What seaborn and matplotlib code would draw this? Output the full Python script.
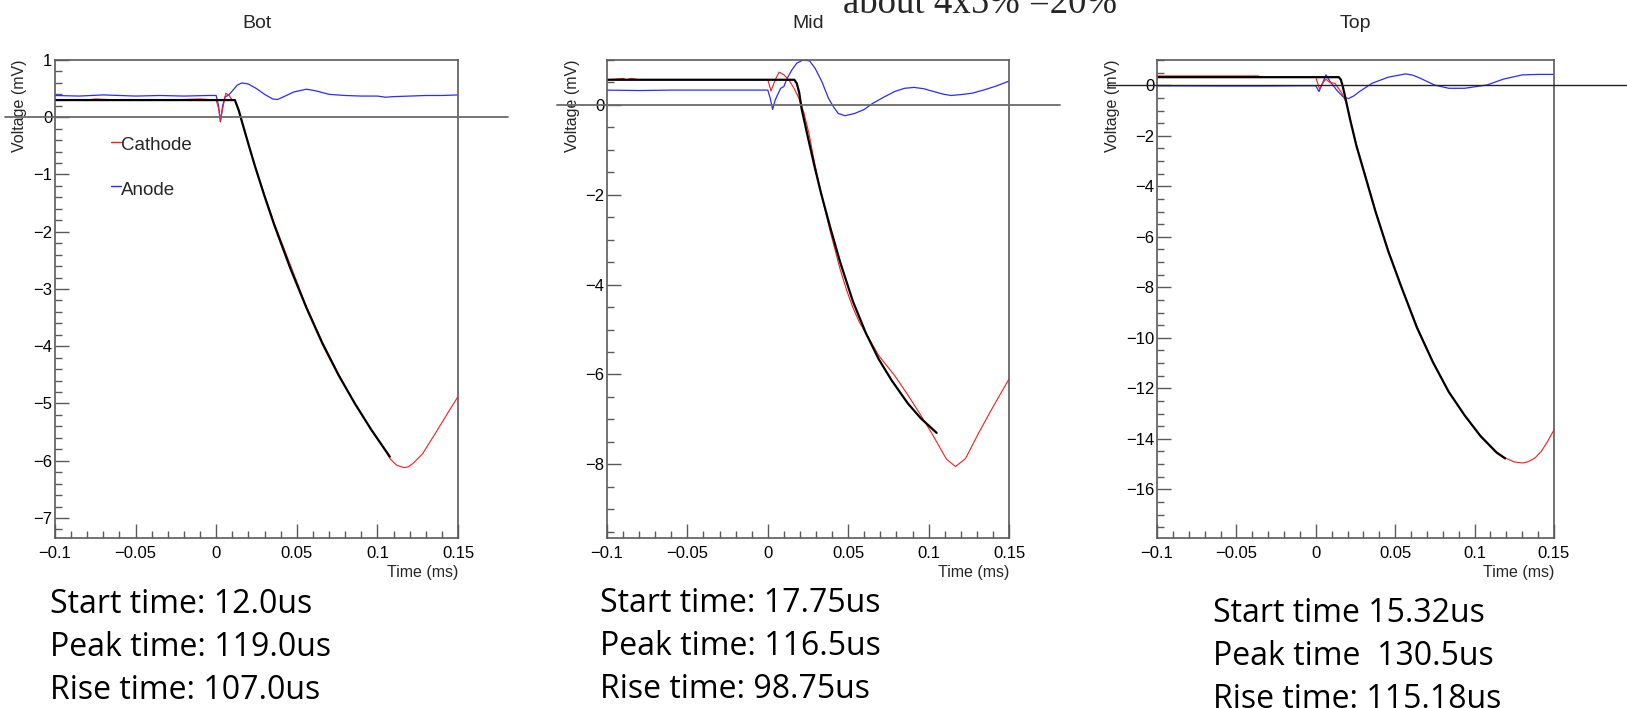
import matplotlib
matplotlib.use("Agg")
import matplotlib.pyplot as plt
from matplotlib.ticker import MultipleLocator, FuncFormatter
import seaborn as sns
import pandas as pd

sns.set_style("white")
plt.rcParams["font.family"] = ["Liberation Sans", "DejaVu Sans"]

# ---------------- Bot ----------------
bot_anode_t = [-0.100, -0.085, -0.070, -0.050, -0.035, -0.020, -0.005, 0.000, 0.0015, 0.0026,
               0.0040, 0.0055, 0.0075, 0.0100, 0.0130, 0.0160, 0.0200, 0.0250, 0.0300, 0.0350,
               0.0380, 0.0420, 0.0480, 0.0560, 0.0620, 0.0700, 0.0800, 0.0900, 0.1000, 0.1050,
               0.1100, 0.1200, 0.1300, 0.1400, 0.1500]
bot_anode_v = [0.38, 0.37, 0.39, 0.37, 0.38, 0.37, 0.38, 0.38, 0.20, -0.08,
               0.20, 0.36, 0.38, 0.46, 0.56, 0.60, 0.58, 0.50, 0.40, 0.32,
               0.31, 0.36, 0.44, 0.49, 0.46, 0.40, 0.38, 0.37, 0.37, 0.35,
               0.36, 0.37, 0.38, 0.38, 0.39]
bot_cathode_t = [-0.100, -0.080, -0.075, -0.060, -0.045, -0.040, -0.030, -0.010, 0.000, 0.0015,
                 0.0026, 0.0040, 0.0060, 0.0080, 0.0100, 0.0116, 0.0140, 0.0160, 0.0200, 0.0240,
                 0.0300, 0.0360, 0.0460, 0.0560, 0.0660, 0.0760, 0.0860, 0.0960, 0.1040, 0.1080,
                 0.1120, 0.1165, 0.1190, 0.1220, 0.1280, 0.1360, 0.1440, 0.1500]
bot_cathode_v = [0.30, 0.30, 0.32, 0.30, 0.30, 0.31, 0.30, 0.32, 0.30, 0.15,
                 -0.06, 0.15, 0.42, 0.38, 0.30, 0.30, 0.12, -0.08, -0.47, -0.85,
                 -1.36, -1.85, -2.58, -3.31, -3.93, -4.49, -5.00, -5.45, -5.78, -5.97,
                 -6.08, -6.12, -6.11, -6.05, -5.88, -5.52, -5.15, -4.88]
bot_fit_t = [-0.100, 0.0116, 0.0140, 0.0160, 0.0200, 0.0240, 0.0300, 0.0360, 0.0460, 0.0560,
             0.0660, 0.0760, 0.0860, 0.0960, 0.1077]
bot_fit_v = [0.30, 0.30, 0.12, -0.08, -0.47, -0.85, -1.38, -1.88, -2.64, -3.33,
             -3.96, -4.51, -5.00, -5.45, -5.93]

# ---------------- Mid ----------------
mid_anode_t = [-0.100, -0.080, -0.060, -0.040, -0.020, 0.000, 0.0015, 0.0030, 0.0045, 0.0060,
               0.0080, 0.0100, 0.0120, 0.0150, 0.0180, 0.0220, 0.0260, 0.0295, 0.0336, 0.0377,
               0.0408, 0.0438, 0.0480, 0.0540, 0.0600, 0.0650, 0.0720, 0.0790, 0.0850, 0.0910,
               0.0970, 0.1030, 0.1090, 0.1140, 0.1200, 0.1270, 0.1350, 0.1420, 0.1500]
mid_anode_v = [0.33, 0.32, 0.33, 0.33, 0.33, 0.33, 0.15, -0.10, 0.10, 0.22,
               0.37, 0.41, 0.59, 0.78, 0.93, 1.00, 0.98, 0.81, 0.52, 0.15,
               -0.04, -0.19, -0.24, -0.19, -0.10, 0.03, 0.17, 0.30, 0.37, 0.39,
               0.36, 0.30, 0.24, 0.21, 0.23, 0.26, 0.34, 0.42, 0.53]
mid_cathode_t = [-0.100, -0.090, -0.088, -0.085, -0.080, -0.040, 0.000, 0.0020, 0.0045, 0.0070,
                 0.0100, 0.0130, 0.0163, 0.0193, 0.0225, 0.0255, 0.0290, 0.0330, 0.0390, 0.0450,
                 0.0490, 0.0530, 0.0570, 0.0610, 0.0690, 0.0790, 0.0870, 0.0950, 0.1010, 0.1050,
                 0.1110, 0.1167, 0.1230, 0.1310, 0.1390, 0.1500]
mid_cathode_v = [0.56, 0.59, 0.56, 0.59, 0.56, 0.56, 0.56, 0.31, 0.55, 0.73,
                 0.67, 0.56, 0.37, 0.15, -0.18, -0.62, -1.27, -1.95, -2.84, -3.66,
                 -4.12, -4.52, -4.84, -5.08, -5.58, -6.03, -6.45, -6.90, -7.25, -7.50,
                 -7.88, -8.05, -7.87, -7.31, -6.79, -6.10]
mid_fit_t = [-0.100, 0.0165, 0.0180, 0.0195, 0.0210, 0.0250, 0.0290, 0.0330, 0.0390, 0.0450,
             0.0530, 0.0610, 0.0690, 0.0770, 0.0870, 0.0950, 0.1050]
mid_fit_v = [0.56, 0.56, 0.48, 0.28, -0.08, -0.73, -1.36, -1.95, -2.75, -3.50,
             -4.38, -5.08, -5.66, -6.13, -6.64, -6.97, -7.30]

# ---------------- Top ----------------
top_anode_t = [-0.100, -0.060, -0.030, -0.010, 0.000, 0.0020, 0.0040, 0.0064, 0.0090, 0.0130,
               0.0170, 0.0205, 0.0240, 0.0275, 0.0355, 0.0456, 0.0566, 0.0610, 0.0657, 0.0747,
               0.0837, 0.0938, 0.1078, 0.1180, 0.1300, 0.1400, 0.1500]
top_anode_v = [-0.02, -0.03, -0.03, -0.02, -0.02, -0.25, 0.05, 0.41, 0.15, -0.18,
               -0.45, -0.53, -0.42, -0.25, 0.08, 0.32, 0.45, 0.40, 0.28, 0.01,
               -0.12, -0.12, 0.01, 0.24, 0.41, 0.43, 0.43]
top_cathode_t = [-0.100, -0.036, -0.035, 0.000, 0.0024, 0.0045, 0.0064, 0.0090, 0.0120, 0.0165,
                 0.0195, 0.0215, 0.0255, 0.0315, 0.0376, 0.0456, 0.0536, 0.0637, 0.0737, 0.0837,
                 0.0938, 0.1038, 0.1139, 0.1193, 0.1250, 0.1305, 0.1340, 0.1380, 0.1420, 0.1460,
                 0.1500]
top_cathode_v = [0.37, 0.37, 0.32, 0.32, -0.16, 0.10, 0.24, 0.10, 0.08, -0.32,
                 -0.75, -1.28, -2.35, -3.62, -4.98, -6.52, -7.92, -9.55, -10.95, -12.16,
                 -13.08, -13.88, -14.52, -14.76, -14.92, -14.96, -14.90, -14.76, -14.50, -14.10,
                 -13.65]
top_fit_t = [-0.100, 0.0145, 0.0158, 0.0170, 0.0180, 0.0215, 0.0255, 0.0315, 0.0376, 0.0456,
             0.0536, 0.0637, 0.0737, 0.0837, 0.0938, 0.1038, 0.1139, 0.1193]
top_fit_v = [0.32, 0.32, 0.22, -0.05, -0.32, -1.33, -2.38, -3.68, -5.00, -6.57,
             -7.94, -9.60, -10.96, -12.14, -13.08, -13.90, -14.55, -14.78]

titles = ["Bot", "Mid", "Top"]
info_lines = [
    ["Start time: 12.0us", "Peak time: 119.0us", "Rise time: 107.0us"],
    ["Start time: 17.75us", "Peak time: 116.5us", "Rise time: 98.75us"],
    ["Start time 15.32us", "Peak time  130.5us", "Rise time: 115.18us"],
]

W, H = 1627, 708
fig = plt.figure(figsize=(W / 100, H / 100), dpi=100)

# pixel boxes (left, right, top, bottom) of the three frames
boxes = [(55, 458, 60, 538), (607, 1009, 60, 538), (1157, 1554, 60, 538)]
ylims = [(-7.35, 1.0), (-9.64, 1.0), (-17.93, 1.0)]
ymajor = [1, 2, 2]
yminor = [0.2, 0.5, 0.5]
ylabel_x = [-0.087, -0.085, -0.111]
zero_span = [(-0.124, 1.124, "#6a6a6a", 1.3), (-0.124, 1.127, "#6a6a6a", 1.3),
             (-0.123, 1.19, "#222222", 1.0)]
text_pos = [(50, [613, 656, 699]), (600, [612, 655, 698]), (1213, [622, 665, 708])]

series = [
    (bot_anode_t, bot_anode_v, bot_cathode_t, bot_cathode_v, bot_fit_t, bot_fit_v),
    (mid_anode_t, mid_anode_v, mid_cathode_t, mid_cathode_v, mid_fit_t, mid_fit_v),
    (top_anode_t, top_anode_v, top_cathode_t, top_cathode_v, top_fit_t, top_fit_v),
]

frame_col = "#5a5a5a"


def fmt(v, _):
    s = f"{round(v, 4):g}"
    if s == "-0":
        s = "0"
    return s.replace("-", "\u2212")


for i, (l, r, t, b) in enumerate(boxes):
    ax = fig.add_axes([l / W, 1 - b / H, (r - l) / W, (b - t) / H])
    at, av, ct, cv, ft, fv = series[i]
    df_a = pd.DataFrame({"t": at, "v": av})
    df_c = pd.DataFrame({"t": ct, "v": cv})
    df_f = pd.DataFrame({"t": ft, "v": fv})
    sns.lineplot(data=df_a, x="t", y="v", ax=ax, color="#2b2bff", lw=0.9,
                 sort=False, estimator=None)
    sns.lineplot(data=df_c, x="t", y="v", ax=ax, color="#ff1a1a", lw=0.8,
                 sort=False, estimator=None)
    sns.lineplot(data=df_f, x="t", y="v", ax=ax, color="black", lw=1.6,
                 sort=False, estimator=None)

    ax.set_xlim(-0.1, 0.15)
    ax.set_ylim(*ylims[i])
    ax.xaxis.set_major_locator(MultipleLocator(0.05))
    ax.xaxis.set_minor_locator(MultipleLocator(0.01))
    ax.yaxis.set_major_locator(MultipleLocator(ymajor[i]))
    ax.yaxis.set_minor_locator(MultipleLocator(yminor[i]))
    ax.xaxis.set_major_formatter(FuncFormatter(fmt))
    ax.yaxis.set_major_formatter(FuncFormatter(fmt))
    ax.tick_params(axis="both", which="both", bottom=True, left=True, top=False, right=False)
    ax.tick_params(axis="both", which="major", direction="in", length=10, width=1,
                   color=frame_col, labelsize=12, labelcolor="black")
    ax.tick_params(axis="both", which="minor", direction="in", length=5, width=1,
                   color=frame_col)
    ax.tick_params(axis="x", which="major", pad=6)
    ax.tick_params(axis="y", which="major", pad=2)
    for sp in ax.spines.values():
        sp.set_color(frame_col)
        sp.set_linewidth(1.2)

    ax.set_xlabel("Time (ms)", fontsize=11.5, ha="right", va="center")
    ax.xaxis.set_label_coords(1.0, -34 / (b - t))
    ax.set_ylabel("Voltage (mV)", fontsize=11.5, ha="right", va="center")
    ax.yaxis.set_label_coords(ylabel_x[i], 1.0)

    x0, x1, zc, zw = zero_span[i]
    ax.axhline(0, xmin=x0, xmax=x1, color=zc, lw=zw, clip_on=False, zorder=5)

    ax.set_title(titles[i], fontsize=14, pad=(t - 28) * 0.72)

    tx, tys = text_pos[i]
    for line, ty in zip(info_lines[i], tys):
        fig.text(tx / W, 1 - ty / H, line, fontsize=23, family=["Open Sans", "DejaVu Sans"],
                 ha="left", va="baseline", color="black")

    if i == 0:
        # legend entries drawn in axes fraction coordinates
        for name, col, yy in [("Cathode", "#ff1a1a", 142), ("Anode", "#2b2bff", 186)]:
            fy = 1 - (yy - t) / (b - t)
            ax.plot([(111 - l) / (r - l), (121 - l) / (r - l)], [fy, fy], color=col,
                    lw=1.0, transform=ax.transAxes)
            ax.text((121 - l) / (r - l), fy - 4 / (b - t), name, transform=ax.transAxes,
                    fontsize=13.5, ha="left", va="center")

fig.text(843 / W, 1 - 13 / H, "about 4x5% =20%", fontsize=26.5,
         family=["Liberation Serif", "DejaVu Serif"], ha="left", va="baseline")

fig.savefig("out.png", dpi=100, facecolor="white")
